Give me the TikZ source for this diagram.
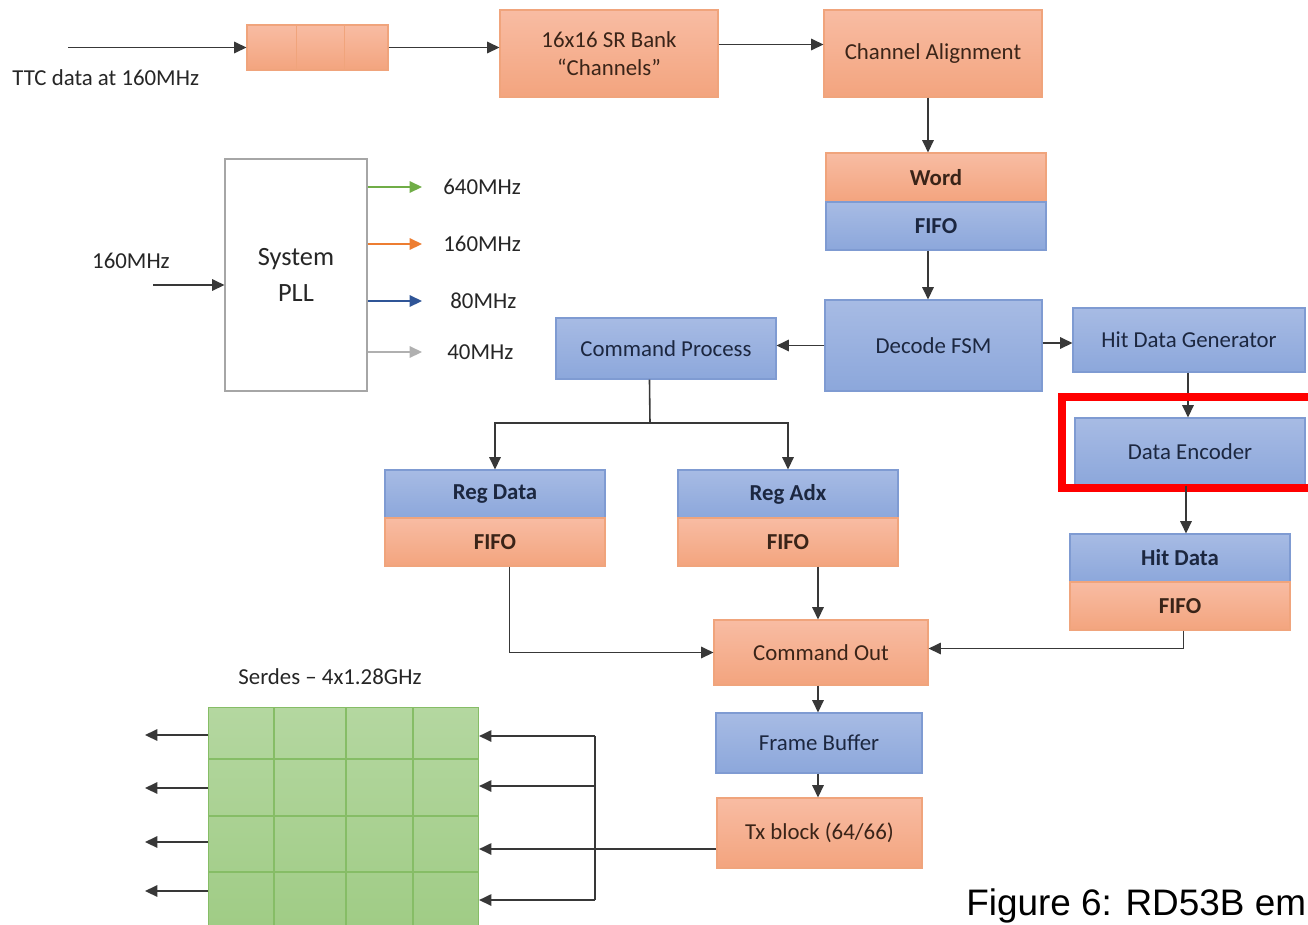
\documentclass[tikz,border=0pt]{standalone}
\usepackage{fontspec}
\setmainfont{Carlito}
\newfontfamily\capfont{Liberation Sans}
\usetikzlibrary{arrows.meta,calc}

\definecolor{otop}{HTML}{F8BCA3}
\definecolor{obot}{HTML}{F3A47E}
\definecolor{oedge}{HTML}{F0A47C}
\definecolor{otxt}{HTML}{3A2418}
\definecolor{btop}{HTML}{A7BBE4}
\definecolor{bbot}{HTML}{8CA7DB}
\definecolor{bedge}{HTML}{7F9BD2}
\definecolor{btxt}{HTML}{1C2740}
\definecolor{gtop}{HTML}{B4D7A0}
\definecolor{gbot}{HTML}{9ECB83}
\definecolor{gedge}{HTML}{86BD66}
\definecolor{linec}{HTML}{383838}
\definecolor{clkgreen}{HTML}{70AD47}
\definecolor{clkorange}{HTML}{ED7D31}
\definecolor{clkblue}{HTML}{2F5597}
\definecolor{clkgray}{HTML}{B0B0B0}
\definecolor{txtc}{HTML}{262626}

\tikzset{
  wh/.style 2 args={minimum width=#1*0.02cm, minimum height=#2*0.02cm},
  blk/.style={rectangle, inner sep=0pt, align=center, line width=0.6pt,
    font=\fontsize{13}{16}\selectfont},
  obox/.style={blk, draw=oedge, top color=otop, bottom color=obot, text=otxt},
  bbox/.style={blk, draw=bedge, top color=btop, bottom color=bbot, text=btxt},
  boldtxt/.style={font=\fontsize{13}{16}\selectfont\bfseries},
  gbox/.style={rectangle, inner sep=0pt, draw=gedge, line width=0.6pt,
    top color=gtop, bottom color=gbot},
  gridln/.style={draw=gedge, line width=0.6pt},
  lbl/.style={inner sep=0pt, text=txtc, font=\fontsize{13}{16}\selectfont},
  ln/.style={draw=linec, line width=0.9pt},
  arr/.style={ln, -{Triangle[length=7pt,width=6.5pt]}},
  clk/.style={line width=0.9pt, -{Triangle[length=7pt,width=6.5pt]}},
}

\begin{document}
\begin{tikzpicture}[x=0.02cm,y=-0.02cm]
\useasboundingbox (0,0) rectangle (1308,924);
\fill[white] (0,0) rectangle (1308,924);
\clip (0,0) rectangle (1308,924);

% ---- input shift register and channel path ----
\coordinate (ttcin) at (68,47.5);
\node[lbl, anchor=west] (ttclbl) at (12,78) {TTC data at 160MHz};
\node[obox, wh={141}{45}] (buf) at (317.5,47.5) {};
\draw[draw=oedge, line width=0.6pt] ($(buf.north west)+(50,0)$) -- ($(buf.south west)+(50,0)$);
\draw[draw=oedge, line width=0.6pt] ($(buf.north west)+(98,0)$) -- ($(buf.south west)+(98,0)$);
\draw[arr] (ttcin) -- (buf.west);

\node[obox, wh={218}{87}] (sr) at (609,53.5) {16x16 SR Bank\\“Channels”};
\node[obox, wh={218}{87}] (ca) at (933,53.5) {Channel Alignment};
\draw[arr] (buf.east) -- (buf.east -| sr.west);
\draw[arr] ($(sr.east)+(0,-9)$) -- ($(ca.west)+(0,-9)$);

\node[obox, boldtxt, wh={220}{49}, text=otxt] (word) at (936,177.5) {Word};
\node[bbox, boldtxt, wh={220}{48}, text=btxt] (wfifo) at (936,226) {FIFO};
\coordinate (wcol) at (928,0);
\draw[arr] (ca.south -| wcol) -- (word.north -| wcol);

\node[bbox, wh={217}{91}] (dec) at (933.5,345.5) {Decode FSM};
\draw[arr] (wfifo.south -| wcol) -- (dec.north -| wcol);

\node[bbox, wh={220}{61}] (cp) at (666,348.5) {Command Process};
\draw[arr] (dec.west) -- (dec.west -| cp.east);

\node[bbox, wh={232}{64}] (hdg) at (1189,340) {Hit Data Generator};
\draw[arr] ($(hdg.west -| dec.east)+(0,3)$) -- ($(hdg.west)+(0,3)$);

\node[bbox, wh={230}{67}] (enc) at (1190,451.5) {Data Encoder};
\coordinate (ecol) at (1188,0);
\draw[arr] (hdg.south -| ecol) -- (enc.north -| ecol);
\draw[red, line width=4.5pt] (1062,397) rectangle (1330,488);

\node[bbox, boldtxt, wh={220}{48}, text=btxt] (hitd) at (1180,558) {Hit Data};
\node[obox, boldtxt, wh={220}{48}, text=otxt] (hitf) at (1180,606) {FIFO};
\coordinate (hcol) at (1186,0);
\draw[arr] (enc.south -| hcol) -- (hitd.north -| hcol);

% ---- register FIFOs ----
\node[bbox, boldtxt, wh={220}{48}, text=btxt] (regd) at (495,494) {Reg Data};
\node[obox, boldtxt, wh={220}{48}, text=otxt] (regdf) at (495,542) {FIFO};
\node[bbox, boldtxt, wh={220}{48}, text=btxt] (rega) at (788,494) {Reg Adx};
\node[obox, boldtxt, wh={220}{48}, text=otxt] (regaf) at (788,542) {FIFO};

\coordinate (split) at (650,423);
\draw[ln] ($(cp.south west)+(94,0)$) -- (split);
\draw[arr] (split) -| (regd.north);
\draw[arr] (split) -| (rega.north);

% ---- output path ----
\node[obox, wh={214}{65}] (cmd) at (821,652.5) {Command Out};
\node[bbox, wh={206}{60}] (fb) at (819,743) {Frame Buffer};
\node[obox, wh={205}{70}] (tx) at (819.5,833) {Tx block (64/66)};

\coordinate (ocol) at (818,0);
\draw[arr] (regaf.south -| ocol) -- (cmd.north -| ocol);
\draw[arr] ($(regdf.south west)+(125,0)$) |- (cmd.west);
\draw[arr] ($(hitf.south west)+(114,0)$) |- ($(cmd.east)+(0,-4)$);
\draw[arr] (cmd.south -| ocol) -- (fb.north -| ocol);
\draw[arr] (fb.south -| ocol) -- (tx.north -| ocol);

% ---- serdes ----
\node[lbl] (serlbl) at (330,677) {Serdes – 4x1.28GHz};
\node[gbox, wh={270}{240}, anchor=north west] (ser) at (208,707) {};
\foreach \gx in {274,346,413} \draw[gridln] (\gx,707) -- (\gx,947);
\foreach \gy in {759,816,872} \draw[gridln] (208,\gy) -- (478,\gy);

\coordinate (busT) at (595,736);
\coordinate (busB) at (595,900);
\draw[ln] ($(tx.west)+(0,16)$) -| (busT);
\draw[ln] (busT) -- (busB);
\foreach \by [count=\i] in {736,786,849,900} {
  \coordinate (bus\i) at (595,\by);
  \draw[arr] (bus\i) -- (bus\i -| ser.east);
}
\foreach \oy [count=\i] in {735,788,842,891} {
  \coordinate (out\i) at (145,\oy);
  \draw[arr] (out\i -| ser.west) -- (out\i);
}

% ---- system PLL ----
\node[rectangle, draw=gray!70, line width=0.6pt, wh={142}{232}, text=txtc,
  align=center, font=\fontsize{15}{20}\selectfont] (pll) at (296,275) {System\\PLL};
\node[lbl] (pllin) at (131,261) {160MHz};
\coordinate (pllsrc) at (153,285);
\draw[arr] (pllsrc) -- (pllsrc -| pll.west);

\foreach \cy/\cc/\ct/\cx [count=\i] in {187/clkgreen/640MHz/443, 244/clkorange/160MHz/443, 301/clkblue/80MHz/450, 352/clkgray/40MHz/447} {
  \coordinate (clk\i) at (422,\cy);
  \draw[clk, draw=\cc, fill=\cc] (clk\i -| pll.east) -- (clk\i);
  \node[lbl, anchor=west] (clklbl\i) at (\cx,\cy) {\ct};
}

% ---- caption ----
\node[inner sep=0pt, anchor=base west, text=black,
  font=\capfont\fontsize{21}{25}\selectfont] (cap) at (966,915) {Figure 6: RD53B em};
\end{tikzpicture}
\end{document}
